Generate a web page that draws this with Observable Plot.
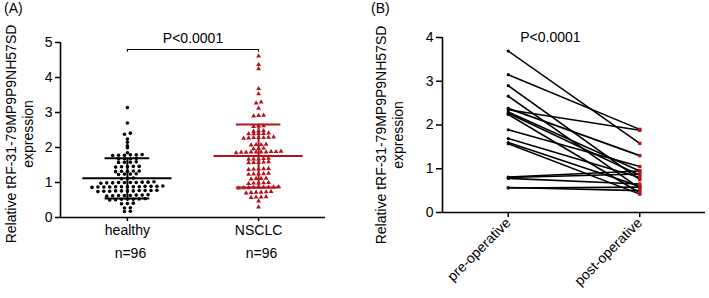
<!DOCTYPE html>
<html><head><meta charset="utf-8">
<script src="https://cdn.jsdelivr.net/npm/d3@7"></script>
<script src="https://cdn.jsdelivr.net/npm/@observablehq/plot@0.6"></script>
<style>
body{margin:0;background:#fff;}
#wrap{position:relative;width:709px;height:298px;font-family:"Liberation Sans",Arial,sans-serif;background:#fff;}
#a,#b{position:absolute;top:0;}
#a{left:0}#b{left:355px}
.lbl{position:absolute;top:0;font-size:14px;color:#000;}
</style></head><body>
<div id="wrap"><div id="a"></div><div id="b"></div>
<div class="lbl" style="left:4px">(A)</div><div class="lbl" style="left:371px">(B)</div></div>
<script>
// ---- Panel A data ----
const groupsA = ["healthy", "NSCLC"];
const countsA = ["n=96", "n=96"];
const healthy = [3.14, 2.70, 2.41, 2.38, 2.24, 2.15, 2.05, 1.99, 1.85,
  1.79, 1.78, 1.80, 1.77, 1.78, 1.79,
  1.68, 1.67, 1.69, 1.68,
  1.58, 1.59, 1.57, 1.58,
  1.45, 1.46, 1.44, 1.45, 1.46,
  1.32, 1.33, 1.31, 1.32, 1.33,
  1.24, 1.23, 1.25, 1.24,
  1.12, 1.13, 1.11,
  1.00, 1.01, 0.99, 1.00, 1.02, 0.98, 1.00, 1.01, 0.99, 1.00,
  0.88, 0.89, 0.87, 0.88, 0.90, 0.86, 0.88, 0.89, 0.87, 0.88, 0.89, 0.87, 0.88,
  0.76, 0.77, 0.75, 0.76, 0.78, 0.74, 0.76, 0.77, 0.75, 0.76, 0.77,
  0.63, 0.64, 0.62, 0.63, 0.65, 0.61, 0.63, 0.64,
  0.52, 0.51, 0.53, 0.52, 0.50, 0.54, 0.52,
  0.40, 0.39, 0.41,
  0.28, 0.27,
  0.18, 0.17];
const nsclc = [4.61, 4.37, 4.25, 3.68, 3.53, 3.30, 3.27, 3.12,
  2.91, 2.92, 2.90,
  2.61, 2.62, 2.60,
  2.47, 2.48, 2.46,
  2.40, 2.39, 2.41, 2.40, 2.39,
  2.28, 2.27, 2.29, 2.28, 2.26, 2.30, 2.28,
  2.08, 2.09, 2.07, 2.08,
  1.97, 1.98, 1.96,
  1.87, 1.86, 1.88, 1.87, 1.85, 1.89, 1.87, 1.86, 1.88, 1.87,
  1.67, 1.68, 1.66, 1.67, 1.69,
  1.57, 1.58, 1.56, 1.57, 1.59,
  1.38, 1.39, 1.37, 1.38, 1.40,
  1.24, 1.25, 1.23, 1.24, 1.26,
  1.11, 1.12, 1.10, 1.11,
  0.98, 0.99, 0.97, 0.98, 1.00,
  0.86, 0.87, 0.85, 0.86, 0.88, 0.84, 0.86, 0.87, 0.85,
  0.72, 0.73, 0.71, 0.72, 0.74, 0.70,
  0.58, 0.59, 0.57, 0.58,
  0.47,
  0.30];
const yTicksA = [0, 1, 2, 3, 4, 5];
const sigA = {from: 1, to: 2, y: 4.8, tick: 4.72, label: "P<0.0001"};

// ---- Panel B data ----
const stagesB = ["pre-operative", "post-operative"];
const preOp  = [3.69, 3.15, 2.90, 2.66, 2.38, 2.35, 2.30, 2.27, 2.24, 1.89, 1.69, 1.60, 1.57, 0.81, 0.80, 0.78, 0.57, 0.56];
const postOp = [1.58, 1.90, 0.75, 0.55, 1.30, 1.88, 0.95, 0.85, 0.45, 1.05, 0.80, 0.60, 0.42, 0.95, 0.88, 0.65, 0.50, 0.58];
const yTicksB = [0, 1, 2, 3, 4];
const pLabelB = "P<0.0001";

const yLabel = "Relative tRF-31-79MP9P9NH57SD\nexpression";
const red = "#b3121b";
const font = {fontSize: "14px", fontFamily: "'Liberation Sans', Arial, sans-serif", background: "#fff", color: "#000", overflow: "visible"};

// column-scatter layout: points with near-equal values share a row, spread sideways
function swarm(values, group, center, step) {
  const sorted = values.map(v => ({v})).sort((a, b) => a.v - b.v);
  const rows = [];
  for (const p of sorted) {
    const last = rows[rows.length - 1];
    if (last && p.v - last[0].v <= 0.05) last.push(p); else rows.push([p]);
  }
  const out = [];
  for (const row of rows) row.forEach((p, j) => out.push({group, value: p.v, x: center + (j - (row.length - 1) / 2) * step}));
  return out;
}

const xA = [0.49, 2.51];
const ptsH = swarm(healthy, "healthy", 1, 0.045);
const ptsN = swarm(nsclc, "NSCLC", 2, 0.038);
const stats = groupsA.map((g, i) => {
  const vals = i ? nsclc : healthy;
  const m = d3.mean(vals), s = d3.deviation(vals);
  return {g, x: i + 1, mean: m, lo: m - s, hi: m + s, color: i ? red : "#000"};
});

const plotA = Plot.plot({
  width: 355, height: 298,
  marginLeft: 60, marginRight: 30, marginTop: 42, marginBottom: 81,
  x: {domain: xA, axis: null},
  y: {domain: [0, 5], axis: null},
  style: font,
  marks: [
    Plot.axisY({ticks: yTicksA, tickFormat: d => String(d), tickSize: 5, tickPadding: 3, strokeWidth: 1.5, label: null}),
    Plot.ruleX([xA[0]], {strokeWidth: 1.6}),
    Plot.ruleY([0], {strokeWidth: 1.6}),
    Plot.axisX({ticks: [1, 2], tickFormat: d => groupsA[d - 1], tickSize: 4, tickPadding: 4, strokeWidth: 1.5, label: null}),
    Plot.text(countsA, {x: (d, i) => i + 1, frameAnchor: "bottom", dy: 40, dx: 3}),
    Plot.text([yLabel], {frameAnchor: "left", textAnchor: "middle", lineAnchor: "middle", rotate: -90, dx: -41, dy: 4, lineHeight: 1.2}),
    Plot.dot(ptsH, {x: "x", y: "value", r: 1.8, fill: "#000", stroke: "none"}),
    Plot.dot(ptsN, {x: "x", y: "value", r: 1.8, symbol: "triangle", fill: red, stroke: "none"}),
    Plot.ruleY(stats, {y: "mean", x1: d => d.x - 0.34, x2: d => d.x + 0.34, stroke: "color", strokeWidth: 2}),
    Plot.ruleY(stats, {y: "hi", x1: d => d.x - 0.17, x2: d => d.x + 0.17, stroke: "color", strokeWidth: 2}),
    Plot.ruleY(stats, {y: "lo", x1: d => d.x - 0.17, x2: d => d.x + 0.17, stroke: "color", strokeWidth: 2}),
    Plot.ruleX(stats, {x: "x", y1: "lo", y2: "hi", stroke: "color", strokeWidth: 2}),
    Plot.ruleY([sigA], {y: "y", x1: "from", x2: "to", strokeWidth: 1}),
    Plot.ruleX([sigA.from, sigA.to], {x: d => d, y1: () => sigA.tick, y2: () => sigA.y, strokeWidth: 1}),
    Plot.text([sigA], {x: d => (d.from + d.to) / 2, y: "y", text: "label", dy: -11})
  ]
});
document.getElementById("a").append(plotA);

const xB = [0.5, 2.5];
const pairs = preOp.map((p, i) => ({pre: p, post: postOp[i]}));
const plotB = Plot.plot({
  width: 354, height: 298,
  marginLeft: 87, marginRight: 4, marginTop: 37, marginBottom: 86,
  x: {domain: xB, axis: null},
  y: {domain: [0, 4], axis: null},
  style: font,
  marks: [
    Plot.axisY({ticks: yTicksB, tickFormat: d => String(d), tickSize: 6, tickPadding: 3, strokeWidth: 1.5, label: null}),
    Plot.ruleX([xB[0]], {strokeWidth: 1.6}),
    Plot.ruleY([0], {strokeWidth: 1.6}),
    Plot.axisX({ticks: [1, 2], tickFormat: d => stagesB[d - 1], tickRotate: -45, tickSize: 5, tickPadding: 3, strokeWidth: 1.5, label: null}),
    Plot.text([yLabel], {frameAnchor: "left", textAnchor: "middle", lineAnchor: "middle", rotate: -90, dx: -53, dy: 10, lineHeight: 1.2}),
    Plot.link(pairs, {x1: () => 1, y1: "pre", x2: () => 2, y2: "post", stroke: "#000", strokeWidth: 1.6}),
    Plot.dot(pairs, {x: () => 1, y: "pre", r: 1.6, fill: "#000", stroke: "none"}),
    Plot.dot(pairs, {x: () => 2, y: "post", r: 1.9, symbol: "square", fill: red, stroke: "none"}),
    Plot.text([pLabelB], {x: () => 1, y: () => 4, textAnchor: "start", dx: 12})
  ]
});
document.getElementById("b").append(plotB);
</script>
</body></html>
